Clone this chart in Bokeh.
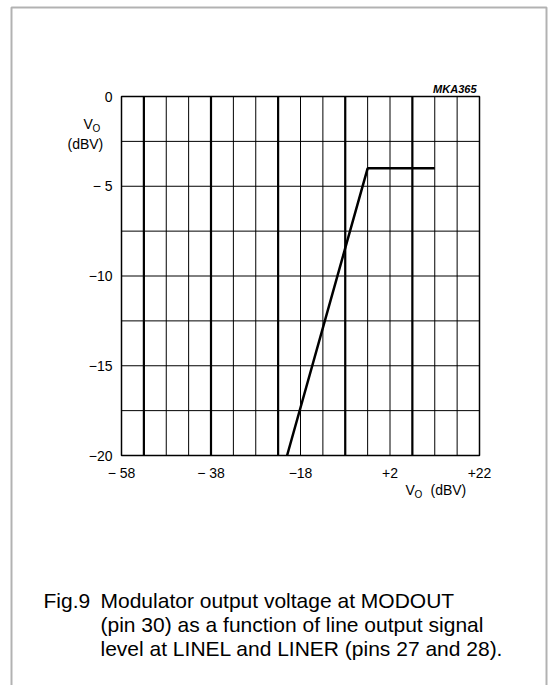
from bokeh.plotting import figure
from bokeh.models import Range1d, FixedTicker, Label, BoxAnnotation
from bokeh.embed import file_html
from bokeh.resources import INLINE

# ---- data ----
x_ticks = [-58, -38, -18, 2, 22]
x_tick_labels = ["\u2212 58", "\u2212 38", "\u221218", "+2", "+22"]
y_ticks = [0, -5, -10, -15, -20]
y_tick_labels = ["0", "\u2212 5", "\u221210", "\u221215", "\u221220"]
x_grid = [-58, -53, -48, -43, -38, -33, -28, -23, -18, -13, -8, -3, 2, 7, 12, 17, 22]
x_heavy = [-53, -38, -23, -8, 7]
y_grid = [0, -2.5, -5, -7.5, -10, -12.5, -15, -17.5, -20]
curve_x = [-21, -3, 12]
curve_y = [-20, -4, -4]
caption_tag = "Fig.9"
caption_lines = [
    "Modulator output voltage at MODOUT",
    "(pin 30) as a function of line output signal",
    "level at LINEL and LINER (pins 27 and 28).",
]
code_label = "MKA365"

FONT = "Liberation Sans"
X0, X1 = x_ticks[0], x_ticks[-1]
Y0, Y1 = y_ticks[-1], y_ticks[0]

# ---- layout (pixels on the canvas) ----
W, H = 548, 685
FL, FT, FW, FH = 121, 96, 358, 359          # chart box
SX = FW / (X1 - X0)
SY = FH / (Y1 - Y0)


def dx(px):
    return X0 + (px - FL) / SX


def dy(py):
    return Y1 - (py - FT) / SY


p = figure(width=W, height=H, output_backend="svg", toolbar_location=None,
           x_range=Range1d(dx(0), dx(W)), y_range=Range1d(dy(H), dy(0)),
           min_border_left=0, min_border_right=0, min_border_top=0, min_border_bottom=0)
p.title.visible = False
p.background_fill_color = "white"
p.border_fill_color = "white"
p.outline_line_color = None
p.xgrid.visible = False
p.ygrid.visible = False

# axes at the chart box edges
p.xaxis.fixed_location = Y0
p.yaxis.fixed_location = X0
p.xaxis.bounds = (X0, X1)
p.yaxis.bounds = (Y0, Y1)
for ax, ticks, labels in ((p.xaxis, x_ticks, x_tick_labels), (p.yaxis, y_ticks, y_tick_labels)):
    ax.ticker = FixedTicker(ticks=ticks)
    ax.major_label_overrides = {t: l for t, l in zip(ticks, labels)}
    ax.major_tick_line_color = None
    ax.major_tick_out = 0
    ax.major_tick_in = 0
    ax.minor_tick_line_color = None
    ax.minor_tick_out = 0
    ax.axis_line_color = None
    ax.major_label_standoff = 9
    ax.major_label_text_font = FONT
    ax.major_label_text_font_size = "14px"
    ax.major_label_text_color = "black"

# grid
p.segment(x0=x_grid, y0=[Y0] * len(x_grid), x1=x_grid, y1=[Y1] * len(x_grid),
          line_color="black", line_width=1)
p.segment(x0=[X0] * len(y_grid), y0=y_grid, x1=[X1] * len(y_grid), y1=y_grid,
          line_color="black", line_width=1)
p.segment(x0=x_heavy, y0=[Y0] * len(x_heavy), x1=x_heavy, y1=[Y1] * len(x_heavy),
          line_color="black", line_width=2.2)
p.quad(left=[X0], right=[X1], bottom=[Y0], top=[Y1], fill_color=None,
       line_color="black", line_width=1.5)

# the curve
p.line(curve_x, curve_y, line_color="black", line_width=2.5)


def lab(text, px, py, size="14px", align="left", baseline="middle", style="normal"):
    p.add_layout(Label(x=dx(px), y=dy(py), text=text,
                       text_font=FONT, text_font_size=size, text_align=align,
                       text_baseline=baseline, text_font_style=style, text_color="black"))


# y axis title
lab("V", 83, 123)
lab("O", 92, 128, size="10px")
lab("(dBV)", 67, 143)
# x axis title
lab("V", 405, 489)
lab("O", 414, 494, size="10px")
lab("(dBV)", 430, 489)
# drawing code
lab(code_label, 476, 88, size="11px", align="right", style="bold italic")
# caption
lab(caption_tag, 43, 600, size="21px")
for i, line in enumerate(caption_lines):
    lab(line, 100, 600 + 24 * i, size="21px")

# outer frame of the figure box (open at the bottom)
p.add_layout(BoxAnnotation(left=dx(11), right=dx(546), top=dy(7), bottom=dy(H + 40),
                           fill_color=None, fill_alpha=0,
                           line_color="black", line_width=2))

open("out.html", "w").write(file_html(p, INLINE))
